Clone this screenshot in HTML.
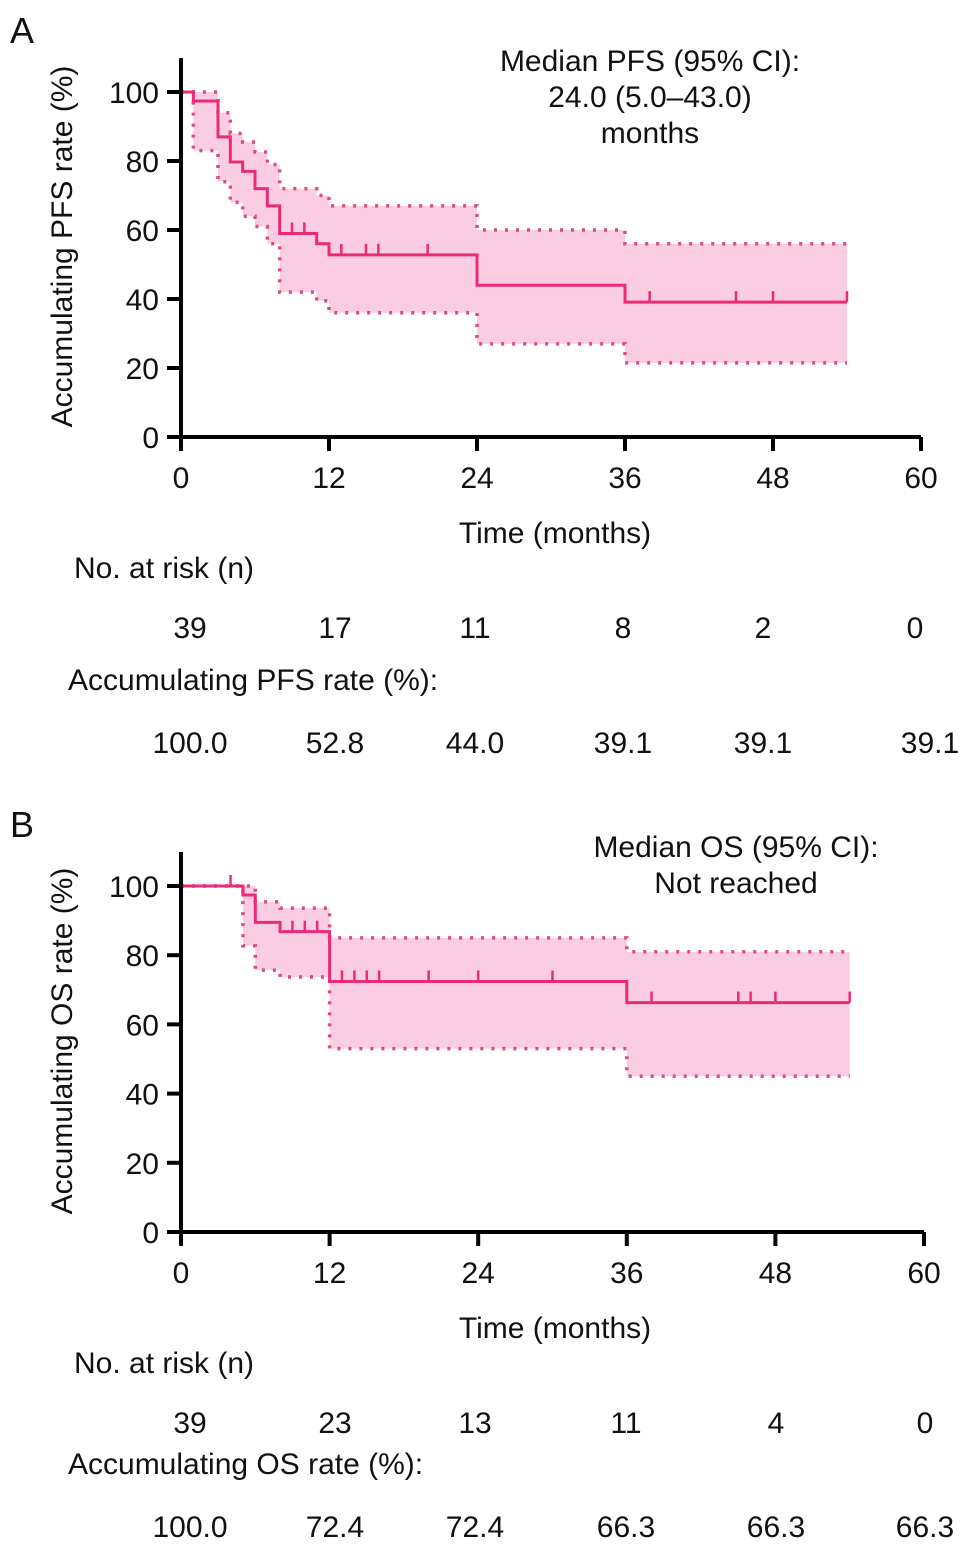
<!DOCTYPE html>
<html><head><meta charset="utf-8"><style>
body{margin:0;background:#fff;width:969px;height:1548px;overflow:hidden;font-family:"Liberation Sans",sans-serif}
svg{position:absolute;left:0;top:0}
text{font-family:"Liberation Sans",sans-serif;fill:#111}
</style></head><body>
<svg id="chart" width="969" height="1548"></svg>
<script>
// Panel A data (PFS)
const aTimes=[0,1,3,4,5,6,7,8,11,12,24,36,54];
const aSurv=[100,97.4,87,79.7,77,72,67,59,56,52.8,44.0,39.1,39.1];
const aUpper=[100,100,94,88,85.5,82.6,79,72,70,67,60,56,56];
const aLower=[100,83,74,68,64,61,56,42,39.5,36,27,21.5,21.5];
const aCensor=[9,10,13,15,16,20,38,45,48,54];
const aRiskN=[39,17,11,8,2,0];
const aRiskRate=["100.0","52.8","44.0","39.1","39.1","39.1"];
// Panel B data (OS)
const bTimes=[0,5,6,8,12,36,54];
const bSurv=[100,97.4,89.5,86.8,72.4,66.3,66.3];
const bUpper=[100,100,95.4,93.6,85,81,81];
const bLower=[100,82.7,75.7,73.7,53,45,45];
const bCensor=[4,9,10,11,13,14,15,16,20,24,30,38,45,46,48,54];
const bRiskN=[39,23,13,11,4,0];
const bRiskRate=["100.0","72.4","72.4","66.3","66.3","66.3"];
const xTicks=[0,12,24,36,48,60];
const yTicks=[0,20,40,60,80,100];

const NS='http://www.w3.org/2000/svg';
const svg=document.getElementById('chart');
const FS=30;
function mk(tag,attrs,parent){const e=document.createElementNS(NS,tag);for(const k in attrs)e.setAttribute(k,attrs[k]);(parent||svg).appendChild(e);return e;}
function txt(x,y,s,size,anchor,parent){const t=mk('text',{x:x,y:y,'font-size':size,'text-anchor':anchor||'middle'},parent);t.textContent=s;return t;}

function panel(cfg){
  const g=mk('g',{});
  
  
  const X=t=>cfg.x0+t*(cfg.x1-cfg.x0)/60;
  const Y=v=>cfg.y0-v*(cfg.y0-cfg.y100)/100;
  const step=(arr)=>{let d='M'+X(cfg.times[0])+','+Y(arr[0]);for(let i=1;i<cfg.times.length;i++){d+=' H'+X(cfg.times[i])+' V'+Y(arr[i]);}return d;};
  let d='M'+X(cfg.times[0])+','+Y(cfg.upper[0]);
  for(let i=1;i<cfg.times.length;i++)d+=' H'+X(cfg.times[i])+' V'+Y(cfg.upper[i]);
  const n=cfg.times.length;
  d+=' V'+Y(cfg.lower[n-1]);
  for(let i=n-1;i>0;i--)d+=' H'+X(cfg.times[i])+' V'+Y(cfg.lower[i-1]);
  d+=' H'+X(cfg.times[0])+' Z';
  const band=mk('path',{d:d,fill:'#fbcde3',stroke:'none'},g);
  
  
  const up=mk('path',{d:step(cfg.upper),fill:'none',stroke:'#dc4a83','stroke-width':3.5,'stroke-dasharray':'3 8'},g);
  
  
  const lo=mk('path',{d:step(cfg.lower),fill:'none',stroke:'#dc4a83','stroke-width':3.5,'stroke-dasharray':'3 8'},g);
  
  
  const sv=mk('path',{d:step(cfg.surv),fill:'none',stroke:'#ec2a7a','stroke-width':3},g);
  
  
  cfg.censor.forEach(t=>{
    let v=cfg.surv[0];for(let i=0;i<n;i++)if(cfg.times[i]<=t)v=cfg.surv[i];
    const c=mk('line',{x1:X(t),x2:X(t),y1:Y(v),y2:Y(v)-11,stroke:'#ec2a7a','stroke-width':2.5},g);
    
    
  });
  const ax=mk('path',{d:'M'+cfg.x0+','+(cfg.y100-34)+' V'+cfg.y0+' H'+cfg.x1,fill:'none',stroke:'#000','stroke-width':4},g);
  
  
  xTicks.forEach(t=>{
    const l=mk('line',{x1:X(t),x2:X(t),y1:cfg.y0,y2:cfg.y0+14,stroke:'#000','stroke-width':4},g);
    
    
    const tl=txt(X(t),cfg.y0+51,String(t),FS,'middle',g);
    
    
  });
  yTicks.forEach(v=>{
    const l=mk('line',{x1:cfg.x0-14,x2:cfg.x0,y1:Y(v),y2:Y(v),stroke:'#000','stroke-width':4},g);
    
    
    const tl=txt(cfg.x0-22,Y(v)+11,String(v),FS,'end',g);
    
    
  });
  const yt=txt(0,0,cfg.ylabel,FS,'middle',g);
  yt.setAttribute('transform','translate(72,'+((cfg.y0+cfg.y100)/2-18)+') rotate(-90)');
  
  
  const xt=txt(555,cfg.y0+106,'Time (months)',FS,'middle',g);
  
  
  const pl=txt(10,cfg.y100-49,cfg.letter,36,'start',g);
  
  
  cfg.median.forEach((s,i)=>{
    const m=txt(cfg.medX,cfg.medY+i*36,s,FS,'middle',g);
    
    
  });
  const rt=txt(74,cfg.riskY,'No. at risk (n)',FS,'start',g);
  
  
  cfg.riskN.forEach((s,i)=>{
    const r=txt(cfg.riskXs[i],cfg.riskY+60,String(s),FS,'middle',g);
    
    
  });
  const rr=txt(68,cfg.rateY,cfg.rateLabel,FS,'start',g);
  
  
  cfg.riskRate.forEach((s,i)=>{
    const r=txt(cfg.rateXs[i],cfg.rateY+63,s,FS,'middle',g);
    
    
  });
}
panel({name:'panel-a-pfs',letter:'A',x0:181,x1:921,y0:437,y100:92,times:aTimes,surv:aSurv,upper:aUpper,lower:aLower,censor:aCensor,
  ylabel:'Accumulating PFS rate (%)',median:['Median PFS (95% CI):','24.0 (5.0–43.0)','months'],medX:650,medY:71,
  riskY:578,riskN:aRiskN,riskXs:[190,335,475,623,763,915],rateY:690,rateLabel:'Accumulating PFS rate (%):',riskRate:aRiskRate,rateXs:[190,335,475,623,763,930]});
panel({name:'panel-b-os',letter:'B',x0:181,x1:924,y0:1232,y100:886,times:bTimes,surv:bSurv,upper:bUpper,lower:bLower,censor:bCensor,
  ylabel:'Accumulating OS rate (%)',median:['Median OS (95% CI):','Not reached'],medX:736,medY:857,
  riskY:1373,riskN:bRiskN,riskXs:[190,335,475,626,776,925],rateY:1474,rateLabel:'Accumulating OS rate (%):',riskRate:bRiskRate,rateXs:[190,335,475,626,776,925]});
</script>
</body></html>
